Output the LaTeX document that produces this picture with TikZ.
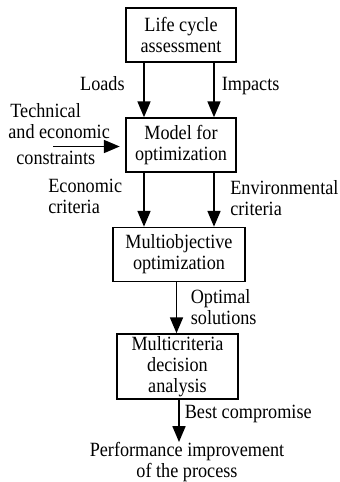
\documentclass[tikz,border=0pt]{standalone}
\usepackage{fontspec}
\setmainfont{Liberation Serif}[FakeStretch=0.9]
\usetikzlibrary{arrows.meta}

\begin{document}
\begin{tikzpicture}[
    font=\fontsize{11.5}{11.95}\selectfont,
    box/.style={draw,line width=.9pt,align=center,minimum height=1.08cm,inner sep=1pt},
    flow/.style={line width=.9pt,-{Triangle[length=9pt,width=7.4pt]}},
    lbl/.style={align=left,inner sep=0pt}
]
\useasboundingbox (0,0) rectangle (6.78,-9.64);

\node (lca) [box,minimum width=2.2cm] at (3.62,-.70) {Life cycle\\assessment};
\node (mod) [box,minimum width=2.2cm] at (3.62,-2.90) {Model for\\optimization};
\node (moo) [box,minimum width=2.63cm] at (3.58,-5.09) {Multiobjective\\optimization};
\node (mcda) [box,minimum width=2.42cm,minimum height=1.3cm] at (3.55,-7.33)
    {Multicriteria\\decision\\analysis};
\node (perf) [align=center,inner sep=0pt,anchor=north] at (3.74,-8.84)
    {Performance improvement\\of the process};

\node (loads) [lbl,anchor=base east] at (2.50,-1.81) {Loads};
\node (imp) [lbl,anchor=base west] at (4.43,-1.81) {Impacts};
\node (tec) [lbl,anchor=north west] at (.16,-2.07)
    {\hspace*{.04cm}Technical\\and economic\\[2.6pt]\hspace*{.16cm}constraints};
\node (eco) [lbl,anchor=north west] at (.96,-3.58) {Economic\\criteria};
\node (env) [lbl,anchor=north west] at (4.60,-3.60) {Environmental\\criteria};
\node (opt) [lbl,anchor=north west] at (3.81,-5.79) {Optimal\\solutions};
\node (best) [lbl,anchor=base west] at (3.69,-8.36) {Best compromise};

\coordinate (tecin) at (1.06,-2.93);

\draw[flow] (lca.south -| 2.88,0) -- (mod.north -| 2.88,0);
\draw[flow] (lca.south -| 4.28,0) -- (mod.north -| 4.28,0);
\draw[flow,shorten >=.11cm] (tecin) -- (mod.west |- tecin);
\draw[flow] (mod.south -| 2.88,0) -- (moo.north -| 2.88,0);
\draw[flow] (mod.south -| 4.28,0) -- (moo.north -| 4.28,0);
\draw[flow] (moo.south -| 3.53,0) -- (mcda.north -| 3.53,0);
\draw[flow] (mcda.south -| 3.58,0) -- (perf.north -| 3.58,0);
\end{tikzpicture}
\end{document}
